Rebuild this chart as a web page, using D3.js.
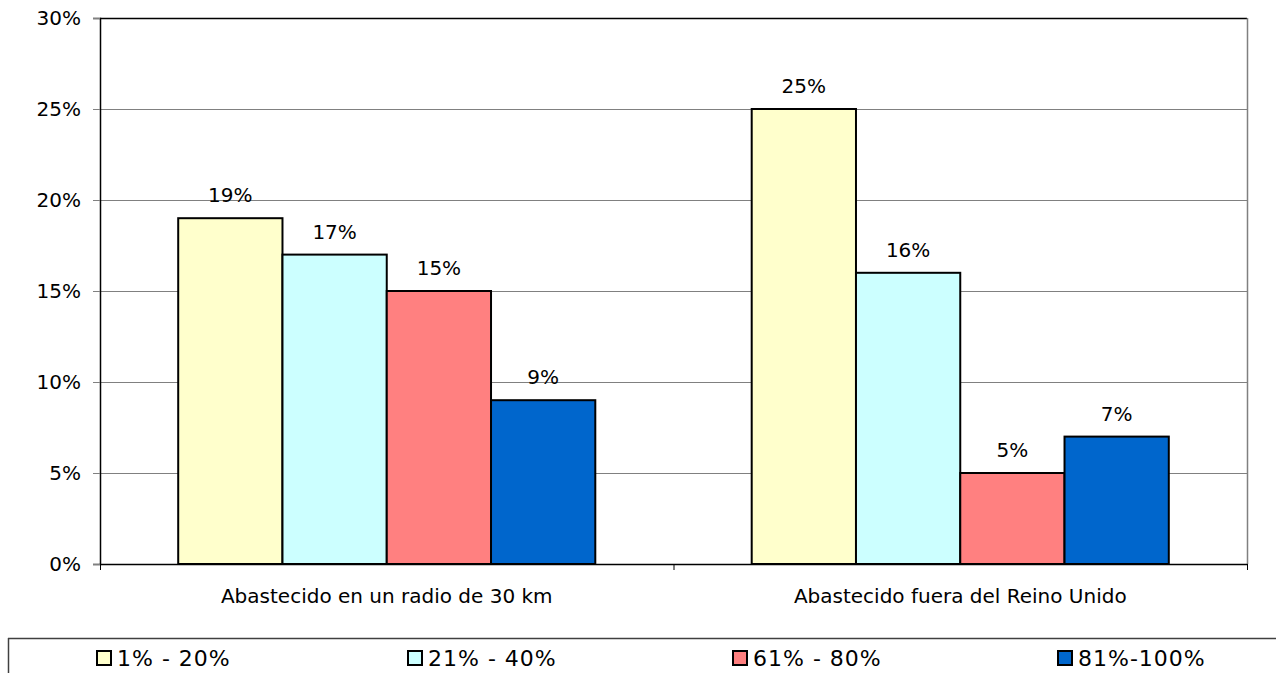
<!DOCTYPE html>
<html>
<head>
<meta charset="utf-8">
<script src="https://cdn.jsdelivr.net/npm/d3@7"></script>
<style>
  body { margin: 0; background: #fff; }
  text { font-family: "DejaVu Sans", Verdana, sans-serif; fill: #000; }
</style>
</head>
<body>
<div id="chart"></div>
<script>
// datos del grafico
const categories = ["Abastecido en un radio de 30 km", "Abastecido fuera del Reino Unido"];
const series = ["1% - 20%", "21% - 40%", "61% - 80%", "81%-100%"];
const values = [
    [19, 17, 15, 9],
    [25, 16, 5, 7]
];
const yTicks = [0, 5, 10, 15, 20, 25, 30];
const colors = ["#FFFFCC", "#CCFFFF", "#FF8080", "#0066CC"];

const width = 1276,
    height = 673;
const plot = { left: 100, right: 1247, top: 18, bottom: 564 };
const fontSize = 20;

const svg = d3.select("#chart").append("svg")
    .attr("width", width)
    .attr("height", height);

const x0 = d3.scaleBand()
    .domain(categories)
    .range([plot.left, plot.right]);

const x1 = d3.scaleBand()
    .domain(series)
    .range([0, x0.bandwidth()])
    .paddingInner(0)
    .paddingOuter(0.75);

const y = d3.scaleLinear()
    .domain([0, 30])
    .range([plot.bottom, plot.top]);

// gridlines
svg.append("g")
    .selectAll("line")
    .data(yTicks.filter(d => d > 0 && d < 30))
    .enter().append("line")
    .attr("x1", plot.left)
    .attr("x2", plot.right)
    .attr("y1", d => y(d) + 0.5)
    .attr("y2", d => y(d) + 0.5)
    .attr("stroke", "#808080")
    .attr("stroke-width", 1);

// top and right border
svg.append("line")
    .attr("x1", plot.left).attr("x2", plot.right)
    .attr("y1", plot.top + 0.5).attr("y2", plot.top + 0.5)
    .attr("stroke", "#000").attr("stroke-width", 1.5);
svg.append("line")
    .attr("x1", plot.right + 0.5).attr("x2", plot.right + 0.5)
    .attr("y1", plot.top).attr("y2", plot.bottom)
    .attr("stroke", "#808080").attr("stroke-width", 1.5);

// bars
const groups = svg.selectAll(".group")
    .data(values)
    .enter().append("g")
    .attr("class", "group")
    .attr("transform", (d, i) => "translate(" + x0(categories[i]) + ",0)");

groups.selectAll("rect")
    .data(d => d)
    .enter().append("rect")
    .attr("x", (d, i) => x1(series[i]))
    .attr("y", d => y(d))
    .attr("width", x1.bandwidth())
    .attr("height", d => y(0) - y(d))
    .attr("fill", (d, i) => colors[i])
    .attr("stroke", "#000")
    .attr("stroke-width", 2);

groups.selectAll(".value")
    .data(d => d)
    .enter().append("text")
    .attr("class", "value")
    .attr("x", (d, i) => x1(series[i]) + x1.bandwidth() / 2)
    .attr("y", d => y(d) - 16)
    .attr("text-anchor", "middle")
    .attr("font-size", fontSize)
    .text(d => d + "%");

// y axis
const yAxis = svg.append("g")
    .attr("transform", "translate(" + plot.left + ",0)")
    .call(d3.axisLeft(y).tickValues(yTicks).tickSize(7).tickPadding(12).tickFormat(d => d + "%"));
yAxis.select(".domain").attr("stroke", "#000").attr("stroke-width", 1.5);
yAxis.selectAll(".tick line").attr("stroke", "#808080");
yAxis.selectAll("text").attr("font-size", fontSize).attr("font-family", "DejaVu Sans, Verdana, sans-serif");

// x axis
const xAxis = svg.append("g")
    .attr("transform", "translate(0," + plot.bottom + ")")
    .call(d3.axisBottom(x0).tickSize(0).tickPadding(25));
xAxis.select(".domain").attr("stroke", "#000").attr("stroke-width", 1.5);
xAxis.selectAll("text").attr("font-size", fontSize).attr("font-family", "DejaVu Sans, Verdana, sans-serif");

// category separators on x axis
svg.append("g")
    .selectAll("line")
    .data(categories.map(c => x0(c)).concat([plot.right]))
    .enter().append("line")
    .attr("x1", d => d + 0.5).attr("x2", d => d + 0.5)
    .attr("y1", plot.bottom).attr("y2", plot.bottom + 6)
    .attr("stroke", "#000");

// legend
const legendX = [97, 408, 733, 1058];
svg.append("line")
    .attr("x1", 8).attr("x2", width)
    .attr("y1", 638.5).attr("y2", 638.5)
    .attr("stroke", "#404040").attr("stroke-width", 1.5);
svg.append("line")
    .attr("x1", 8.5).attr("x2", 8.5)
    .attr("y1", 638).attr("y2", height)
    .attr("stroke", "#404040").attr("stroke-width", 1.5);

const legend = svg.selectAll(".legend")
    .data(series)
    .enter().append("g")
    .attr("class", "legend")
    .attr("transform", (d, i) => "translate(" + legendX[i] + ",651)");

legend.append("rect")
    .attr("width", 14)
    .attr("height", 14)
    .attr("fill", (d, i) => colors[i])
    .attr("stroke", "#000")
    .attr("stroke-width", 2);

legend.append("text")
    .attr("x", 20)
    .attr("y", 15)
    .attr("font-size", 22)
    .attr("letter-spacing", 1)
    .text(d => d);
</script>
</body>
</html>
